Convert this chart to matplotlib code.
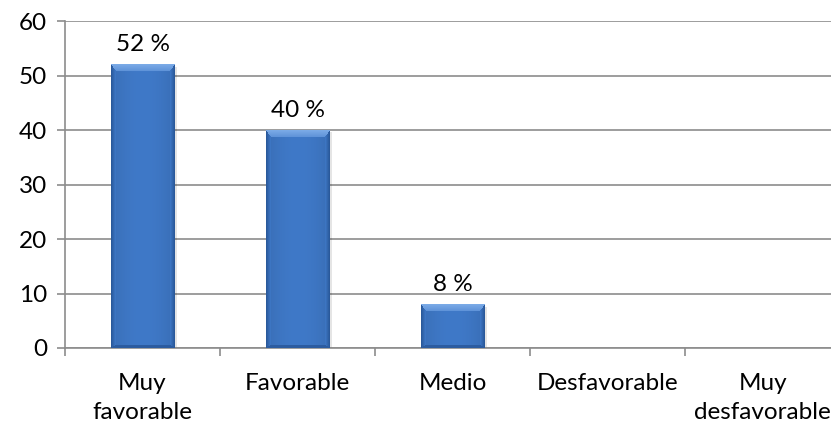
import numpy as np
import matplotlib
matplotlib.use("Agg")
import matplotlib.pyplot as plt
from matplotlib.patches import Rectangle

categories = ["Muy\nfavorable", "Favorable", "Medio", "Desfavorable", "Muy\ndesfavorable"]
values = [52, 40, 8, 0, 0]
labels = ["52 %", "40 %", "8 %", None, None]
y_ticks = [0, 10, 20, 30, 40, 50, 60]

plt.rcParams['font.family'] = ['Lato', 'DejaVu Sans']
FS = 17.5
GRAY = "#8c8c8c"

BASE = np.array([63, 121, 200]) / 255
SIDE = np.array([40, 86, 150]) / 255
TOP = np.array([125, 172, 232]) / 255
BOTTOM = np.array([44, 92, 160]) / 255


def bevel_image(w_px, h_px, edge=5.0, top_edge=7.0):
    """RGB array for a bar with a bevelled border."""
    w_px, h_px = max(int(round(w_px)), 2), max(int(round(h_px)), 2)
    yy, xx = np.mgrid[0:h_px, 0:w_px]
    d_left = xx + 0.5
    d_right = w_px - xx - 0.5
    d_side = np.minimum(d_left, d_right)
    d_top = yy + 0.5
    d_bot = h_px - yy - 0.5
    img = np.ones((h_px, w_px, 3)) * BASE
    # gentle shading across the face
    t = np.abs((xx + 0.5) / w_px - 0.5) * 2
    img = img * (1 - 0.10 * t[..., None] ** 2)
    # normalised distance into each bevel
    ns = d_side / edge
    nt = d_top / top_edge
    nb = d_bot / 3.0
    m = np.minimum.reduce([ns, nt, nb])
    side = (m < 1) & (ns == m)
    top = (m < 1) & (nt == m)
    bot = (m < 1) & (nb == m)
    f = m[..., None]
    img = np.where(side[..., None], SIDE * (1 - f) + BASE * f, img)
    img = np.where(top[..., None], TOP * (1 - 0.5 * f) + BASE * 0.5 * f, img)
    img = np.where(bot[..., None], BOTTOM, img)
    return img


fig = plt.figure(figsize=(8.31, 4.28), dpi=100)
ax = fig.add_axes([0.0782, 0.187, 0.933, 0.763])

x = np.arange(len(categories))
bar_w = 0.41
ax.set_xlim(-0.5, len(categories) - 0.5)
ax.set_ylim(0, 60)

bars = ax.bar(x, values, width=bar_w, color="none", zorder=3)

# pixel scale for the bevel images
px_per_x = 0.933 * 831 / len(categories)
px_per_y = 0.763 * 428 / 60

for rect, v in zip(bars, values):
    if v <= 0:
        continue
    x0 = rect.get_x()
    w = rect.get_width()
    # soft drop shadow
    ax.add_patch(Rectangle((x0 + 0.015, -0.4), w, v, color="#000000",
                           alpha=0.10, zorder=2, linewidth=0))
    img = bevel_image(w * px_per_x, v * px_per_y)
    ax.imshow(img, extent=(x0, x0 + w, 0, v), aspect="auto",
              interpolation="bilinear", zorder=3)

for xi, v, lab in zip(x, values, labels):
    if lab:
        ax.annotate(lab, (xi, v), xytext=(0, 7), textcoords="offset points",
                    ha="center", va="bottom", fontsize=FS, color="#000000")

ax.set_xlim(-0.5, len(categories) - 0.5)
ax.set_ylim(0, 60)
ax.set_yticks(y_ticks)
ax.set_xticks(x)
ax.set_xticklabels(categories, fontsize=FS, linespacing=1.5)
ax.set_xticks(np.arange(-0.5, len(categories), 1), minor=True)
ax.tick_params(axis="x", which="major", length=0, pad=18)
ax.tick_params(axis="x", which="minor", length=6, width=1.2, color=GRAY)
ax.tick_params(axis="y", length=6, width=1.2, color=GRAY, labelsize=FS, pad=7)

ax.grid(axis="y", color=GRAY, linewidth=1.2, zorder=0)
ax.set_axisbelow(True)
for s in ["top", "right"]:
    ax.spines[s].set_visible(False)
for s in ["left", "bottom"]:
    ax.spines[s].set_color(GRAY)
    ax.spines[s].set_linewidth(1.2)

fig.savefig("out.png", dpi=100)
